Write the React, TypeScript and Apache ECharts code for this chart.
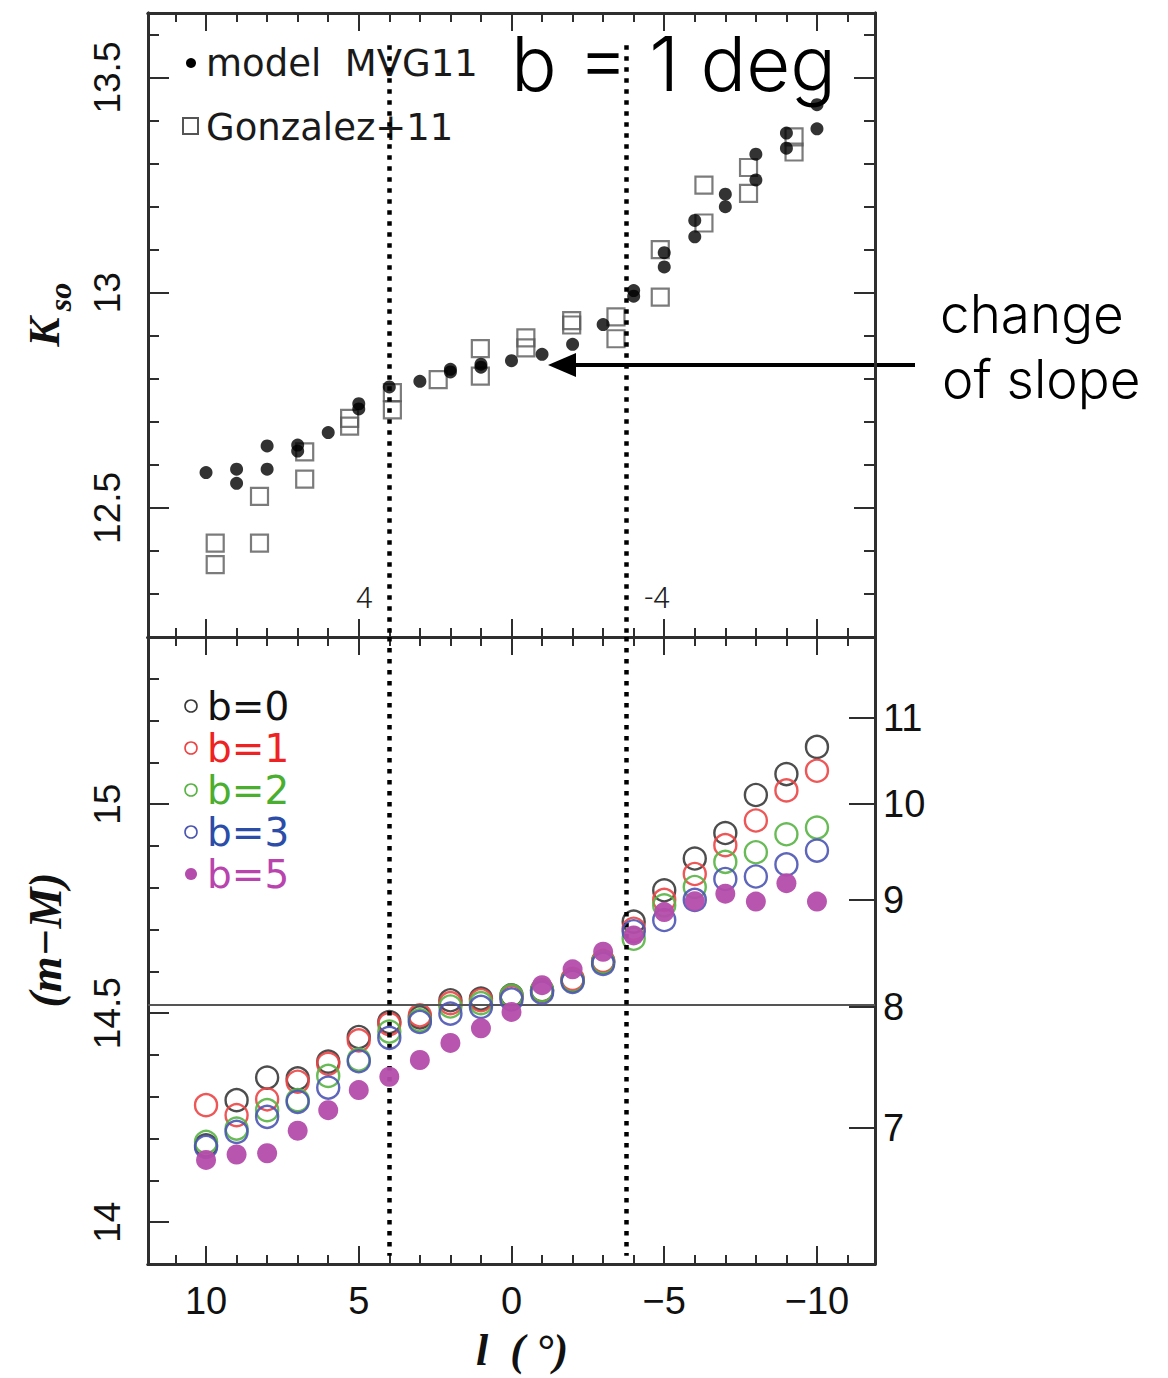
import React, { useEffect, useRef } from "react";
import * as echarts from "echarts";

// ---------- data ----------
// top panel: model MVG11 (filled dots) and Gonzalez+11 (open squares)
const lModel = [10, 9, 9, 8, 8, 7, 7, 6, 5, 5, 4, 3, 2, 2, 1, 1, 0, -1, -2, -3, -4, -4, -5, -5, -6, -6, -7, -7, -8, -8, -9, -9, -10, -10];
const kModel = [12.582, 12.59, 12.557, 12.644, 12.59, 12.646, 12.632, 12.675, 12.742, 12.73, 12.781, 12.794, 12.822, 12.816, 12.834, 12.827, 12.842, 12.857, 12.88, 12.926, 13.005, 12.992, 13.093, 13.06, 13.168, 13.13, 13.229, 13.2, 13.322, 13.262, 13.371, 13.336, 13.437, 13.381];

const lGonz = [9.7, 9.7, 8.25, 8.25, 6.77, 6.77, 5.3, 5.3, 3.9, 3.9, 2.4, 1.02, 1.02, -0.47, -0.47, -1.97, -1.97, -3.42, -3.42, -4.87, -4.87, -6.3, -6.3, -7.76, -7.76, -9.25, -9.25];
const kGonz = [12.418, 12.368, 12.527, 12.418, 12.63, 12.567, 12.708, 12.69, 12.768, 12.728, 12.798, 12.87, 12.806, 12.895, 12.872, 12.935, 12.925, 12.944, 12.893, 13.1, 12.99, 13.25, 13.162, 13.291, 13.231, 13.362, 13.327];

// bottom panel: distance modulus vs l for several b
const lBottom = [10, 9, 8, 7, 6, 5, 4, 3, 2, 1, 0, -1, -2, -3, -4, -5, -6, -7, -8, -9, -10];
const muB0 = [14.184, 14.292, 14.346, 14.344, 14.384, 14.443, 14.479, 14.49, 14.531, 14.535, 14.543, 14.555, 14.579, 14.623, 14.719, 14.794, 14.87, 14.931, 15.022, 15.072, 15.137];
const muB1 = [14.28, 14.256, 14.294, 14.336, 14.379, 14.435, 14.474, 14.495, 14.524, 14.531, 14.539, 14.554, 14.582, 14.625, 14.702, 14.771, 14.833, 14.902, 14.961, 15.033, 15.08];
const muB2 = [14.192, 14.224, 14.268, 14.292, 14.35, 14.389, 14.456, 14.483, 14.516, 14.524, 14.542, 14.555, 14.578, 14.622, 14.678, 14.758, 14.802, 14.862, 14.885, 14.928, 14.944];
const muB3 = [14.18, 14.216, 14.252, 14.288, 14.322, 14.385, 14.441, 14.479, 14.499, 14.515, 14.533, 14.549, 14.575, 14.618, 14.696, 14.723, 14.771, 14.821, 14.827, 14.856, 14.889];
const muB5 = [14.149, 14.162, 14.165, 14.219, 14.268, 14.316, 14.348, 14.388, 14.429, 14.464, 14.503, 14.567, 14.605, 14.647, 14.686, 14.742, 14.768, 14.786, 14.767, 14.811, 14.767];

// ticks
const xMajorTicks = [10, 5, 0, -5, -10];
const xMinorTicks = [11, 10, 9, 8, 7, 6, 5, 4, 3, 2, 1, 0, -1, -2, -3, -4, -5, -6, -7, -8, -9, -10, -11];
const kMajorTicks = [12.5, 13, 13.5];
const kMinorTicks = [12.3, 12.4, 12.5, 12.6, 12.7, 12.8, 12.9, 13, 13.1, 13.2, 13.3, 13.4, 13.5, 13.6];
const muMajorTicks = [14, 14.5, 15];
const muMinorTicks = [14, 14.1, 14.2, 14.3, 14.4, 14.5, 14.6, 14.7, 14.8, 14.9, 15, 15.1, 15.2, 15.3];
const distTicks = [7, 8, 9, 10, 11]; // kpc, right axis of bottom panel
const refDist = 8; // horizontal reference line (kpc)
const slopeBreaks = [4, -3.75]; // dotted verticals
const slopeBreakLabels = ["4", "-4"];

// ---------- helpers ----------
const X_MIN = -11.9;
const X_MAX = 11.9;
const K_MIN = 12.2;
const K_MAX = 13.65;
const MU_MIN = 13.9;
const MU_MAX = 15.4;

const distToMu = (d: number) => 5 * Math.log10(d * 1000) - 5;
const muToDist = (m: number) => Math.pow(10, (m + 5) / 5) / 1000;

const FRAME = "#2e2e2e";
const SANS = "'Liberation Sans', Arial, sans-serif";
const LEG = "'DejaVu Sans', sans-serif";
const LIGHT = "Inter, Roboto, 'Liberation Sans', sans-serif";
const LIGHT2 = "Roboto, 'Liberation Sans', sans-serif";
const SERIF = "'Liberation Serif', 'Times New Roman', serif";

const minus = (v: number) => (v < 0 ? "\u2212" + Math.abs(v) : String(v));

function xAx(grid: number, position: string, ticks: number[], len: number, label?: any) {
  return {
    type: "value",
    gridIndex: grid,
    position,
    min: X_MIN,
    max: X_MAX,
    inverse: true,
    axisLine: { show: true, onZero: false, lineStyle: { color: FRAME, width: 3 } },
    axisTick: { show: true, inside: true, length: len, customValues: ticks, lineStyle: { color: FRAME, width: 2 } },
    axisLabel: label ? label : { show: false },
    splitLine: { show: false },
  };
}

function yAx(grid: number, position: string, min: number, max: number, ticks: number[], len: number, label?: any) {
  return {
    type: "value",
    gridIndex: grid,
    position,
    min,
    max,
    axisLine: { show: true, onZero: false, lineStyle: { color: FRAME, width: 3 } },
    axisTick: { show: true, inside: true, length: len, customValues: ticks, lineStyle: { color: FRAME, width: 2 } },
    axisLabel: label ? label : { show: false },
    splitLine: { show: false },
  };
}

const zip = (a: number[], b: number[]) => a.map((v, i) => [v, b[i]]);

const hollow = (name: string, data: number[][], color: string, z: number) => ({
  type: "scatter",
  name,
  xAxisIndex: 4,
  yAxisIndex: 4,
  data,
  symbol: "circle",
  symbolSize: 22,
  z,
  silent: true,
  itemStyle: { color: "rgba(0,0,0,0)", borderColor: color, borderWidth: 2.4, opacity: 0.9 },
});

const dotted = { type: [4.5, 6.5] as any, width: 4.5, color: "#000" };

const C0 = "#3a3a3a";
const C1 = "#ec4545";
const C2 = "#58b444";
const C3 = "#4b55b2";
const C5 = "#b44cab";

const bLegend = [
  { text: "b=0", color: "#111111", stroke: C0, filled: false },
  { text: "b=1", color: "#ee2222", stroke: C1, filled: false },
  { text: "b=2", color: "#4aae2e", stroke: C2, filled: false },
  { text: "b=3", color: "#2b4da8", stroke: C3, filled: false },
  { text: "b=5", color: "#b944ae", stroke: C5, filled: true },
];

function txt(text: string, x: number, y: number, o: any = {}) {
  const { rotation, align, vAlign, ...style } = o;
  return {
    type: "text",
    x,
    y,
    rotation: rotation || 0,
    silent: true,
    style: {
      text,
      align: align || "left",
      verticalAlign: vAlign || "middle",
      textAlign: align || "left",
      textVerticalAlign: vAlign || "middle",
      ...style,
    },
  };
}

const option: any = {
  animation: false,
  backgroundColor: "#ffffff",
  grid: [
    { left: 148, top: 13, width: 727, height: 624, containLabel: false },
    { left: 148, top: 637, width: 727, height: 627, containLabel: false },
  ],
  xAxis: [
    xAx(0, "bottom", xMinorTicks, 9),
    xAx(0, "bottom", xMajorTicks, 18),
    xAx(0, "top", xMinorTicks, 9),
    xAx(0, "top", xMajorTicks, 18),
    xAx(1, "bottom", xMinorTicks, 9),
    xAx(1, "bottom", xMajorTicks, 18, {
      show: true,
      customValues: xMajorTicks,
      formatter: (v: number) => minus(v),
      fontSize: 38,
      fontFamily: SANS,
      color: "#111",
      margin: 18,
    }),
    xAx(1, "top", xMinorTicks, 9),
    xAx(1, "top", xMajorTicks, 18),
  ],
  yAxis: [
    yAx(0, "left", K_MIN, K_MAX, kMinorTicks, 11),
    yAx(0, "left", K_MIN, K_MAX, kMajorTicks, 21, {
      show: true,
      customValues: kMajorTicks,
      rotate: 90,
      fontSize: 37,
      fontFamily: SANS,
      color: "#111",
      margin: 22,
    }),
    yAx(0, "right", K_MIN, K_MAX, kMinorTicks, 11),
    yAx(0, "right", K_MIN, K_MAX, kMajorTicks, 21),
    yAx(1, "left", MU_MIN, MU_MAX, muMinorTicks, 11),
    yAx(1, "left", MU_MIN, MU_MAX, muMajorTicks, 21, {
      show: true,
      customValues: muMajorTicks,
      rotate: 90,
      fontSize: 37,
      fontFamily: SANS,
      color: "#111",
      margin: 22,
    }),
    yAx(1, "right", MU_MIN, MU_MAX, distTicks.map(distToMu), 26, {
      show: true,
      customValues: distTicks.map(distToMu),
      formatter: (v: number) => String(Math.round(muToDist(v))),
      fontSize: 38,
      fontFamily: SANS,
      color: "#111",
      margin: 8,
    }),
  ],
  series: [
    {
      type: "scatter",
      name: "Gonzalez+11",
      xAxisIndex: 0,
      yAxisIndex: 0,
      data: zip(lGonz, kGonz),
      symbol: "rect",
      symbolSize: 17,
      z: 2,
      silent: true,
      itemStyle: { color: "rgba(0,0,0,0)", borderColor: "#5a5a5a", borderWidth: 2.2 },
    },
    {
      type: "scatter",
      name: "model MVG11",
      xAxisIndex: 0,
      yAxisIndex: 0,
      data: zip(lModel, kModel),
      symbol: "circle",
      symbolSize: 13,
      z: 3,
      silent: true,
      itemStyle: { color: "#000" },
      markLine: {
        silent: true,
        symbol: ["none", "none"],
        label: { show: false },
        lineStyle: dotted,
        data: slopeBreaks.map((l) => [{ coord: [l, 13.575] }, { coord: [l, K_MIN] }]),
      },
    },
    hollow("b=0", zip(lBottom, muB0), C0, 2),
    hollow("b=1", zip(lBottom, muB1), C1, 3),
    hollow("b=2", zip(lBottom, muB2), C2, 4),
    hollow("b=3", zip(lBottom, muB3), C3, 5),
    {
      type: "scatter",
      name: "b=5",
      xAxisIndex: 4,
      yAxisIndex: 4,
      data: zip(lBottom, muB5),
      symbol: "circle",
      symbolSize: 20,
      z: 6,
      silent: true,
      itemStyle: { color: C5, opacity: 0.95 },
      markLine: {
        silent: true,
        symbol: ["none", "none"],
        label: { show: false },
        data: [
          { yAxis: distToMu(refDist), lineStyle: { type: "solid", width: 2, color: "#555" } },
          ...slopeBreaks.map((l) => [
            { coord: [l, MU_MAX], lineStyle: dotted },
            { coord: [l, 13.92] },
          ]),
        ],
      },
    },
  ],
  graphic: {
    elements: [
      // top legend
      { type: "circle", silent: true, shape: { cx: 191, cy: 63, r: 5 }, style: { fill: "#000" } },
      txt("model  MVG11", 206, 63, { fontSize: 37, fontFamily: LEG, fill: "#1a1a1a" }),
      { type: "rect", silent: true, shape: { x: 183, y: 118, width: 15, height: 16 }, style: { fill: "none", stroke: "#555", lineWidth: 2 } },
      txt("Gonzalez+11", 206, 127, { fontSize: 37, fontFamily: LEG, fill: "#1a1a1a" }),
      // title annotation
      txt("b = 1 deg", 511, 63, { fontSize: 76, fontFamily: LIGHT, fontWeight: 300, fill: "#000" }),
      // change of slope annotation
      txt("change", 940, 314, { fontSize: 53, fontFamily: LIGHT, fontWeight: 300, fill: "#000" }),
      txt("of slope", 942, 379, { fontSize: 53, fontFamily: LIGHT, fontWeight: 300, fill: "#000" }),
      { type: "line", silent: true, shape: { x1: 915, y1: 365, x2: 570, y2: 365 }, style: { stroke: "#000", lineWidth: 4 } },
      { type: "polygon", silent: true, shape: { points: [[548, 365], [576, 353], [576, 377]] }, style: { fill: "#000" } },
      // slope break labels
      txt(slopeBreakLabels[0], 364, 597, { align: "center", fontSize: 30, fontFamily: LIGHT2, fontWeight: 300, fill: "#222" }),
      txt(slopeBreakLabels[1], 657, 597, { align: "center", fontSize: 30, fontFamily: LIGHT2, fontWeight: 300, fill: "#222" }),
      // bottom legend
      ...bLegend.flatMap((b, i) => {
        const cy = 706 + i * 42;
        return [
          {
            type: "circle",
            silent: true,
            shape: { cx: 191, cy, r: 6 },
            style: b.filled ? { fill: b.stroke } : { fill: "none", stroke: b.stroke, lineWidth: 1.6 },
          },
          txt(b.text, 207, cy, { fontSize: 39, fontFamily: LEG, fill: b.color }),
        ];
      }),
      // axis names
      txt("K", 44, 332, { rotation: Math.PI / 2, align: "center", fontSize: 44, fontFamily: SERIF, fontStyle: "italic", fontWeight: "bold", fill: "#111" }),
      txt("so", 60, 297, { rotation: Math.PI / 2, align: "center", fontSize: 32, fontFamily: SERIF, fontStyle: "italic", fontWeight: "bold", fill: "#111" }),
      txt("(m\u2212M)", 45, 940, { rotation: Math.PI / 2, align: "center", fontSize: 46, fontFamily: SERIF, fontStyle: "italic", fontWeight: "bold", fill: "#111" }),
      txt("l  ( \u00b0)", 522, 1350, { align: "center", fontSize: 44, fontFamily: SERIF, fontStyle: "italic", fontWeight: "bold", fill: "#111" }),
    ],
  },
};

export default function App() {
  const ref = useRef<HTMLDivElement>(null);
  useEffect(() => {
    if (!ref.current) return;
    const chart = echarts.init(ref.current, null, { renderer: "svg" });
    chart.setOption(option);
    return () => chart.dispose();
  }, []);
  return (
    <div
      ref={ref}
      style={{ position: "fixed", left: 0, top: 0, width: 1168, height: 1378, background: "#fff" }}
    />
  );
}
